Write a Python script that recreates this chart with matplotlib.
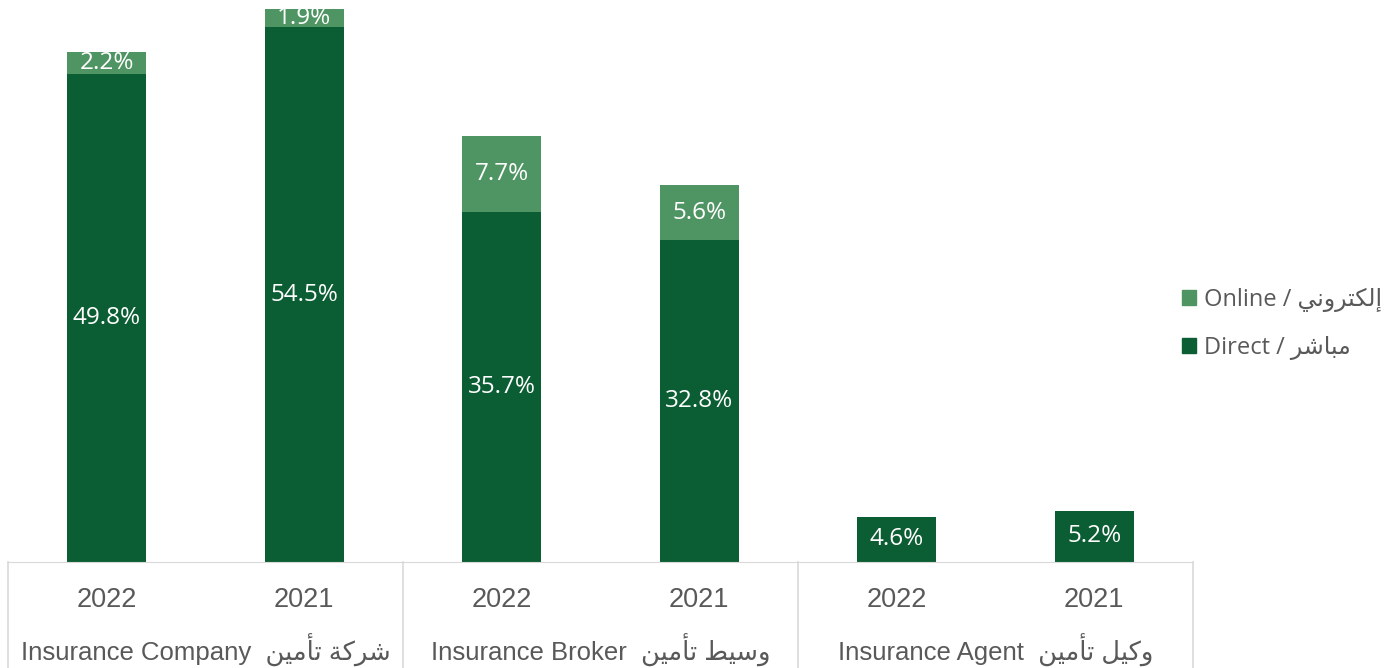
import matplotlib.pyplot as plt
from matplotlib.patches import Patch

# data
years = ['2022', '2021', '2022', '2021', '2022', '2021']
direct = [49.8, 54.5, 35.7, 32.8, 4.6, 5.2]
online = [2.2, 1.9, 7.7, 5.6, 0, 0]

# Arabic written in presentation forms, visual order (matplotlib has no shaping)
ar_company = '\uFEE6\uFEF4\uFEE3\uFE84\uFE97 \uFE94\uFEDB\uFEAE\uFEB7'
ar_broker = '\uFEE6\uFEF4\uFEE3\uFE84\uFE97 \uFEC2\uFEF4\uFEB3\uFEED'
ar_agent = '\uFEE6\uFEF4\uFEE3\uFE84\uFE97 \uFEDE\uFEF4\uFEDB\uFEED'
groups = ['Insurance Company  ' + ar_company,
          'Insurance Broker  ' + ar_broker,
          'Insurance Agent  ' + ar_agent]
lbl_online = 'Online / \uFEF2\uFEE7\uFEED\uFEAE\uFE98\uFEDC\uFEDF\uFE87'
lbl_direct = 'Direct / \uFEAE\uFEB7\uFE8E\uFE92\uFEE3'

dark = '#0B5E33'
light = '#4F9563'
grey_txt = '#595959'
grey_line = '#D9D9D9'

W, H = 1398, 668
fig = plt.figure(figsize=(W / 100, H / 100), dpi=100)
ax = fig.add_axes([8 / W, 106 / H, (1193 - 8) / W, 562 / H])

x = list(range(len(direct)))
ax.bar(x, direct, width=0.4, color=dark)
ax.bar(x, online, width=0.4, bottom=direct, color=light)

for i in x:
    ax.text(i, direct[i] / 2, f'{direct[i]:.1f}%', ha='center', va='center',
            color='white', fontsize=17.5, family=['Open Sans', 'DejaVu Sans'])
    if online[i] > 0:
        ax.text(i, direct[i] + online[i] / 2, f'{online[i]:.1f}%', ha='center', va='center',
                color='white', fontsize=17.5, family=['Open Sans', 'DejaVu Sans'])

ax.set_xlim(-0.5, 5.5)
ax.set_ylim(0, 57.3)
ax.set_yticks([])
ax.set_xticks(x)
ax.set_xticklabels(years, fontsize=19.5, color=grey_txt, family=['Liberation Sans', 'DejaVu Sans'])
ax.tick_params(axis='x', length=0, pad=18)
for s in ['top', 'right', 'left']:
    ax.spines[s].set_visible(False)
ax.spines['bottom'].set_color(grey_line)

trans = ax.get_xaxis_transform()
for j, g in enumerate(groups):
    ax.text(2 * j + 0.5, -0.157, g, transform=trans, ha='center', va='center',
            fontsize=18.5, color=grey_txt, family=['Liberation Sans', 'DejaVu Sans'])
for b in [-0.5, 1.5, 3.5, 5.5]:
    ax.plot([b, b], [0, -0.19], transform=trans, color=grey_line, lw=1.2, clip_on=False)

handles = [Patch(color=light, label=lbl_online), Patch(color=dark, label=lbl_direct)]
fig.legend(handles=handles, loc='center left', bbox_to_anchor=(1161 / W, 1 - 324 / H),
           frameon=False, handlelength=0.6, handleheight=0.6, handletextpad=0.3,
           labelspacing=1.0, prop={'family': ['Open Sans', 'DejaVu Sans'], 'size': 17},
           labelcolor=grey_txt)

fig.savefig('out.png', dpi=100)
